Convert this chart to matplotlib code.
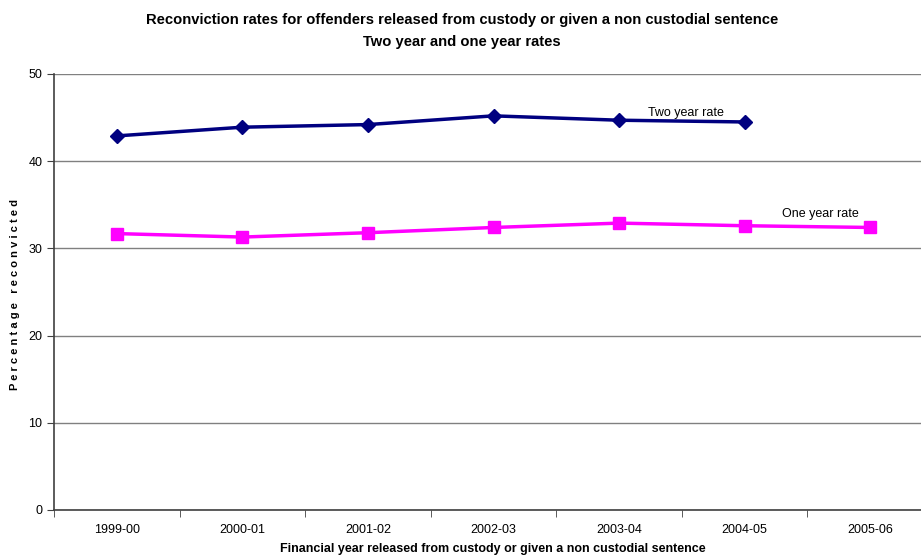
import matplotlib
matplotlib.use("Agg")
import matplotlib.pyplot as plt
from matplotlib.ticker import FixedLocator, NullFormatter

years = ["1999-00", "2000-01", "2001-02", "2002-03", "2003-04", "2004-05", "2005-06"]
two_year_rate = [42.9, 43.9, 44.2, 45.2, 44.7, 44.5]
one_year_rate = [31.7, 31.3, 31.8, 32.4, 32.9, 32.6, 32.4]

plt.rcParams['font.family'] = ['Liberation Sans', 'DejaVu Sans']

fig = plt.figure(figsize=(9.21, 5.56), dpi=100)
ax = fig.add_axes([54 / 921, 46 / 556, 879 / 921, 436 / 556])

x_two = list(range(len(two_year_rate)))
x_one = list(range(len(one_year_rate)))

ax.plot(x_two, two_year_rate, color='#000080', linewidth=2.5, marker='D',
        markersize=7, zorder=3)
ax.plot(x_one, one_year_rate, color='#FF00FF', linewidth=2.5, marker='s',
        markersize=9, zorder=3)

ax.text(4.53, 45.5, "Two year rate", fontsize=9, ha='center', va='center')
ax.text(5.6, 33.9, "One year rate", fontsize=9, ha='center', va='center')

ax.set_xlim(-0.5, len(years) - 0.5)
ax.set_ylim(0, 50)
ax.set_yticks([0, 10, 20, 30, 40, 50])
ax.yaxis.grid(True, color='#808080', linewidth=1)
ax.set_axisbelow(True)

ax.set_xticks(x_one)
ax.set_xticklabels(years, fontsize=9)
ax.xaxis.set_minor_locator(FixedLocator([i + 0.5 for i in range(-1, len(years))]))
ax.xaxis.set_minor_formatter(NullFormatter())
ax.tick_params(axis='x', which='major', length=0, pad=10)
ax.tick_params(axis='x', which='minor', length=5, color='#404040', direction='out')
ax.tick_params(axis='y', length=5, color='#404040', labelsize=9, direction='out')

for side in ['top', 'right']:
    ax.spines[side].set_visible(False)
for side in ['left', 'bottom']:
    ax.spines[side].set_color('#404040')
    ax.spines[side].set_linewidth(1.2)

# axis titles placed by hand so they stay inside the canvas
fig.text(493 / 921, 1 - 549 / 556,
         "Financial year released from custody or given a non custodial sentence",
         fontsize=9, fontweight='bold', ha='center', va='center')
fig.text(15 / 921, 1 - 295 / 556, "P e r c e n t a g e   r e c o n v i c t e d",
         fontsize=8, fontweight='bold', ha='center', va='center', rotation=90)

fig.text(462 / 921, 1 - 20 / 556,
         "Reconviction rates for offenders released from custody or given a non custodial sentence",
         fontsize=10.6, fontweight='bold', ha='center', va='center')
fig.text(462 / 921, 1 - 42 / 556, "Two year and one year rates",
         fontsize=10.6, fontweight='bold', ha='center', va='center')

fig.savefig("out.png", dpi=100)
